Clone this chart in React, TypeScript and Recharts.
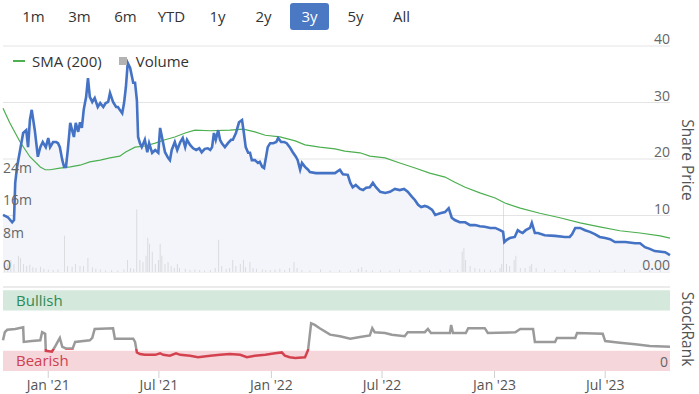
import {
  ComposedChart,
  LineChart,
  Area,
  Line,
  Bar,
  XAxis,
  YAxis,
  CartesianGrid,
  ReferenceArea,
  ReferenceLine,
} from 'recharts';

const FONT = "'Open Sans', 'Noto Sans', sans-serif";
const BLUE = '#4472c4';
const SMA_GREEN = '#4caf50';
const GRID = '#e4e4e4';
const LABEL = '#666';

// x values are days counted from 19 Oct 2020
const START = Date.UTC(2020, 9, 19);
const dayOf = (y: number, m: number, d: number) =>
  Math.round((Date.UTC(y, m - 1, d) - START) / 86400000);
const END_DAY = dayOf(2023, 10, 15);

const RANGE_BUTTONS = ['1m', '3m', '6m', 'YTD', '1y', '2y', '3y', '5y', 'All'];
const ACTIVE_RANGE = '3y';

const DATE_TICKS = [
  { label: "Jan '21", day: dayOf(2021, 1, 1) },
  { label: "Jul '21", day: dayOf(2021, 7, 1) },
  { label: "Jan '22", day: dayOf(2022, 1, 1) },
  { label: "Jul '22", day: dayOf(2022, 7, 1) },
  { label: "Jan '23", day: dayOf(2023, 1, 1) },
  { label: "Jul '23", day: dayOf(2023, 7, 1) },
];

const PRICE_TICKS = [0, 10, 20, 30, 40];
const VOLUME_TICKS = [0, 8, 16, 24]; // millions
const RANK_TICKS = [0];

// [day, share price]
const PRICE: [number, number][] = [
  [0, 10.1], [8, 9.7], [15, 8.8], [18, 9.2], [20, 15.8], [23, 18.6], [28, 21.6], [33, 24.6],
  [38, 25.1], [41, 22.1], [44, 26.9], [47, 28.7], [52, 25.1], [57, 20.4], [61, 22.1], [65, 23.0],
  [70, 22.1], [74, 23.7], [77, 22.1], [82, 23.0], [87, 23.0], [90, 22.8], [93, 22.1], [97, 19.8],
  [100, 18.6], [103, 18.6], [106, 21.6], [110, 26.4], [113, 25.1], [116, 23.9], [119, 26.4], [123, 24.8],
  [126, 26.5], [129, 25.5], [132, 28.7], [136, 31.0], [139, 34.3], [142, 31.0], [146, 30.1], [150, 30.8],
  [155, 29.2], [159, 29.9], [164, 29.2], [168, 29.9], [172, 30.1], [175, 31.7], [180, 30.1], [185, 29.2],
  [188, 29.2], [191, 28.7], [195, 28.1], [198, 29.9], [201, 32.7], [204, 37.0], [208, 36.1], [213, 33.5],
  [216, 33.5], [219, 30.4], [221, 23.9], [224, 22.8], [227, 22.1], [232, 23.4], [236, 21.2], [239, 22.8],
  [244, 21.1], [249, 21.6], [254, 21.1], [257, 25.5], [260, 23.9], [265, 21.2], [270, 20.2], [273, 19.8],
  [276, 21.6], [281, 23.0], [285, 21.6], [290, 23.0], [294, 23.7], [298, 22.1], [301, 23.4], [306, 22.5],
  [311, 21.9], [316, 21.6], [321, 21.9], [325, 21.2], [330, 21.8], [335, 21.9], [339, 21.6], [342, 22.1],
  [345, 24.6], [348, 23.4], [352, 25.1], [355, 23.4], [358, 22.8], [363, 22.1], [368, 22.8], [373, 23.4],
  [376, 23.4], [381, 24.6], [386, 26.5], [391, 26.9], [394, 24.6], [397, 22.1], [401, 21.1], [404, 21.1],
  [407, 19.8], [412, 19.8], [417, 19.3], [420, 19.5], [424, 18.6], [427, 18.4], [430, 20.2], [433, 22.1],
  [437, 22.8], [442, 22.8], [447, 23.0], [450, 23.7], [455, 23.0], [460, 23.0], [464, 22.8], [469, 22.1],
  [474, 21.2], [479, 20.4], [482, 19.8], [486, 18.1], [489, 19.3], [494, 18.6], [499, 18.1], [502, 17.7],
  [512, 17.5], [530, 17.5], [543, 17.5], [551, 18.1], [556, 17.3], [564, 17.2], [568, 15.8], [572, 15.0],
  [577, 15.4], [584, 14.7], [589, 14.5], [594, 14.9], [600, 15.0], [605, 15.8], [610, 15.0], [617, 14.2],
  [625, 14.0], [633, 14.2], [641, 14.7], [649, 14.5], [656, 14.7], [662, 14.2], [669, 13.3], [674, 12.7],
  [679, 11.9], [684, 11.5], [690, 11.7], [695, 11.5], [702, 11.0], [707, 10.1], [715, 10.4], [723, 10.6],
  [729, 11.3], [734, 9.6], [739, 9.2], [747, 8.8], [756, 8.8], [764, 8.3], [772, 8.3], [780, 8.1],
  [788, 8.0], [797, 7.8], [805, 7.8], [813, 7.4], [818, 7.1], [820, 5.3], [824, 5.7], [829, 6.0],
  [837, 6.2], [842, 7.4], [846, 7.1], [850, 6.9], [855, 7.4], [862, 7.8], [865, 8.7], [870, 6.9],
  [875, 6.9], [886, 6.5], [903, 6.4], [919, 6.2], [927, 6.2], [931, 6.7], [936, 7.8], [944, 7.8],
  [952, 7.4], [960, 7.1], [968, 6.7], [976, 6.2], [985, 6.0], [993, 5.8], [1001, 5.3], [1018, 5.3],
  [1034, 5.1], [1042, 5.1], [1050, 4.4], [1058, 4.1], [1066, 3.7], [1083, 3.5], [1091, 3.0],
];

// [day, 200-day simple moving average]
const SMA_200: [number, number][] = [
  [0, 29.0], [11, 26.4], [28, 23.0], [44, 20.4], [61, 18.6], [69, 18.1], [77, 18.1], [93, 18.4],
  [110, 18.6], [126, 18.9], [142, 19.5], [159, 19.8], [175, 20.2], [191, 20.5], [200, 21.2], [216, 22.1],
  [232, 22.3], [249, 22.8], [265, 23.4], [281, 23.9], [298, 24.6], [314, 25.1], [339, 25.0], [371, 25.1],
  [393, 25.3], [412, 24.8], [429, 24.2], [453, 23.9], [478, 23.2], [494, 22.5], [518, 22.1], [543, 21.8],
  [559, 21.4], [584, 21.1], [600, 20.5], [625, 20.2], [649, 19.3], [674, 18.4], [698, 17.5], [723, 16.8],
  [739, 15.9], [756, 15.0], [780, 14.0], [805, 13.1], [821, 12.2], [846, 11.3], [878, 10.4], [911, 9.6],
  [944, 8.7], [976, 8.0], [1009, 7.3], [1042, 6.9], [1075, 6.4], [1091, 6.0],
];

// [day, volume in millions]
const VOLUME: [number, number][] = [
  [3, 1.5], [8, 2], [13, 3], [18, 2], [25, 4], [29, 3.5], [34, 2], [39, 1.5], [44, 1.8], [49, 1.2],
  [54, 1], [61, 1.3], [67, 0.8], [74, 0.6], [82, 0.5], [90, 0.6], [101, 9], [106, 1.5], [113, 1.3],
  [119, 2], [126, 1.5], [132, 1.5], [139, 3.5], [146, 1.2], [152, 0.8], [159, 0.6], [168, 0.4],
  [178, 0.5], [188, 0.4], [198, 0.6], [204, 3], [209, 1], [214, 0.8], [219, 15.5], [224, 3],
  [229, 2.5], [234, 4], [237, 8.5], [240, 7], [244, 5], [249, 2], [254, 3], [257, 7], [260, 4],
  [265, 2], [270, 2.5], [275, 1.5], [280, 1], [285, 2], [289, 1], [298, 0.8], [306, 0.5], [314, 0.6],
  [322, 0.5], [330, 0.4], [339, 0.5], [347, 1], [353, 8], [358, 1.5], [365, 0.8], [371, 1], [376, 3],
  [381, 1.5], [388, 2], [393, 3], [397, 1.2], [404, 2.5], [409, 1], [415, 0.8], [424, 0.6], [430, 0.5],
  [437, 0.5], [445, 0.6], [453, 0.8], [461, 0.5], [469, 1], [476, 2.5], [481, 1], [489, 0.5],
  [502, 0.4], [519, 0.6], [535, 0.4], [551, 0.5], [568, 0.4], [581, 0.8], [587, 1.2], [594, 0.5],
  [604, 0.4], [617, 0.5], [633, 0.4], [649, 0.6], [666, 0.4], [682, 0.5], [698, 0.4], [715, 0.5],
  [731, 0.6], [744, 0.5], [751, 5], [754, 6], [757, 3], [764, 1.5], [772, 1], [780, 0.8], [788, 0.6],
  [797, 0.5], [805, 0.4], [813, 1], [816, 2], [819, 17], [824, 2], [829, 1.5], [836, 3], [839, 4],
  [846, 1], [854, 1], [862, 1.5], [865, 2], [872, 1], [886, 0.8], [903, 0.5], [919, 0.6], [936, 0.5],
  [960, 0.4], [976, 0.5], [1001, 0.4], [1017, 0.6], [1042, 0.5], [1058, 0.4], [1075, 0.6],
];

// [day, StockRank 0-100]
const STOCKRANK: [number, number][] = [
  [0, 38], [3, 48], [7, 51], [20, 52], [33, 54], [34, 36], [47, 37], [61, 38], [64, 48], [69, 46],
  [70, 25], [80, 24], [85, 30], [90, 37], [93, 41], [97, 30], [103, 28], [114, 28], [118, 36],
  [142, 38], [146, 41], [150, 52], [180, 53], [183, 40], [213, 40], [216, 36], [219, 23], [224, 21],
  [232, 20], [249, 20], [257, 22], [262, 20], [273, 19], [283, 22], [290, 20], [306, 19], [319, 17],
  [339, 19], [355, 20], [371, 21], [388, 20], [399, 17], [412, 19], [429, 20], [445, 22], [456, 23],
  [461, 19], [469, 17], [478, 16], [494, 17], [499, 26], [504, 59], [510, 57], [518, 53], [535, 45],
  [551, 43], [568, 40], [584, 42], [600, 44], [604, 53], [608, 48], [625, 47], [636, 45], [657, 43],
  [662, 48], [690, 48], [695, 52], [700, 47], [731, 47], [733, 57], [736, 47], [757, 47], [761, 53],
  [788, 53], [793, 47], [838, 48], [846, 52], [867, 52], [870, 36], [903, 36], [906, 41], [936, 41],
  [939, 47], [981, 46], [985, 37], [1009, 35], [1034, 33], [1058, 31], [1091, 30],
];
const BEARISH_LIMIT = 27;

function buildMainTable() {
  const rows = new Map<number, any>();
  const put = (day: number, key: string, v: number) => {
    const row = rows.get(day) ?? { day };
    row[key] = v;
    rows.set(day, row);
  };
  PRICE.forEach(([d, v]) => put(d, 'price', v));
  SMA_200.forEach(([d, v]) => put(d, 'sma', v));
  VOLUME.forEach(([d, v]) => put(d, 'vol', v));
  return [...rows.values()].sort((a, b) => a.day - b.day);
}

const mainData = buildMainTable();
const rankData = STOCKRANK.map(([day, rank]) => ({ day, rank }));
const rankMax = Math.max(...STOCKRANK.map((r) => r[1]));
const rankMin = Math.min(...STOCKRANK.map((r) => r[1]));
const rankSplit = (rankMax - BEARISH_LIMIT) / (rankMax - rankMin);

const PriceTick = (props: any) => {
  const { x, y, payload } = props;
  return (
    <text x={x} y={y - 2} textAnchor="end" fill={LABEL} fontSize={14} fontFamily={FONT}>
      {payload.value === 0 ? '0.00' : payload.value}
    </text>
  );
};

const VolumeTick = (props: any) => {
  const { x, y, payload } = props;
  return (
    <text x={x} y={y - 2} textAnchor="start" fill={LABEL} fontSize={14} fontFamily={FONT}>
      {payload.value === 0 ? '0' : `${payload.value}m`}
    </text>
  );
};

const RankTick = (props: any) => {
  const { x, y, payload } = props;
  return (
    <text x={x - 2} y={y - 4} textAnchor="end" fill={LABEL} fontSize={14} fontFamily={FONT}>
      {payload.value}
    </text>
  );
};

function RangeButtons() {
  return (
    <div style={{ position: 'absolute', left: 14, top: 3, display: 'flex', gap: 7, zIndex: 2 }}>
      {RANGE_BUTTONS.map((b) => {
        const active = b === ACTIVE_RANGE;
        return (
          <div
            key={b}
            style={{
              width: 39,
              height: 27,
              lineHeight: '27px',
              textAlign: 'center',
              fontSize: 15,
              borderRadius: 3,
              color: active ? '#fff' : '#333',
              background: active ? '#4a78c2' : 'transparent',
            }}
          >
            {b}
          </div>
        );
      })}
    </div>
  );
}

function PriceLegend() {
  return (
    <div style={{ position: 'absolute', left: 13, top: 51, display: 'flex', alignItems: 'center', fontSize: 15, color: '#333', zIndex: 2 }}>
      <span style={{ display: 'inline-block', width: 12, height: 1.5, background: SMA_GREEN, marginRight: 7 }} />
      <span>SMA (200)</span>
      <span style={{ display: 'inline-block', width: 8, height: 8, background: '#b3b3b3', margin: '0 9px 0 17px' }} />
      <span>Volume</span>
    </div>
  );
}

function PriceChart() {
  return (
    <ComposedChart width={699} height={280} data={mainData} margin={{ top: 46, right: 0, bottom: 8, left: 0 }}>
      <CartesianGrid yAxisId="price" vertical={false} stroke={GRID} />
      <XAxis dataKey="day" type="number" domain={[0, END_DAY]} hide />
      <YAxis
        yAxisId="price"
        orientation="right"
        width={29}
        domain={[0, 40]}
        ticks={PRICE_TICKS}
        interval={0}
        axisLine={false}
        tickLine={false}
        tickSize={0}
        tickMargin={0}
        tick={PriceTick}
      />
      <YAxis
        yAxisId="vol"
        orientation="left"
        width={3}
        domain={[0, 56]}
        ticks={VOLUME_TICKS}
        interval={0}
        axisLine={false}
        tickLine={false}
        tickSize={0}
        tickMargin={0}
        tick={VolumeTick}
      />
      <Area
        yAxisId="price"
        dataKey="price"
        type="linear"
        stroke="none"
        fill="#f3f5fb"
        fillOpacity={1}
        connectNulls
        isAnimationActive={false}
      />
      <Bar yAxisId="vol" dataKey="vol" barSize={1} fill="#c6c6c6" isAnimationActive={false} />
      <Line
        yAxisId="price"
        dataKey="sma"
        type="linear"
        stroke={SMA_GREEN}
        strokeWidth={1.2}
        dot={false}
        connectNulls
        isAnimationActive={false}
      />
      <Line
        yAxisId="price"
        dataKey="price"
        type="linear"
        stroke={BLUE}
        strokeWidth={2.6}
        dot={false}
        connectNulls
        isAnimationActive={false}
      />
    </ComposedChart>
  );
}

function RankChart() {
  return (
    <LineChart width={699} height={114} data={rankData} margin={{ top: 7, right: 0, bottom: 0, left: 3 }}>
      <defs>
        <linearGradient id="rankStroke" x1="0" y1="0" x2="0" y2="1">
          <stop offset={0} stopColor="#9a9a9a" />
          <stop offset={rankSplit} stopColor="#9a9a9a" />
          <stop offset={rankSplit} stopColor="#d4424f" />
          <stop offset={1} stopColor="#d4424f" />
        </linearGradient>
      </defs>
      <XAxis
        dataKey="day"
        type="number"
        domain={[0, END_DAY]}
        ticks={DATE_TICKS.map((t) => t.day)}
        tickFormatter={(v) => DATE_TICKS.find((t) => t.day === v)?.label ?? ''}
        interval={0}
        height={23}
        axisLine={false}
        tickLine={{ stroke: '#d0d0d0' }}
        tickSize={7}
        tickMargin={2}
        tick={{ fill: '#555', fontSize: 14, fontFamily: FONT }}
      />
      <YAxis
        orientation="right"
        width={29}
        domain={[0, 104]}
        ticks={RANK_TICKS}
        interval={0}
        axisLine={false}
        tickLine={false}
        tickSize={0}
        tickMargin={0}
        tick={RankTick}
      />
      <ReferenceLine y={104} stroke={GRID} strokeWidth={1.5} />
      <ReferenceArea
        y1={75}
        y2={100}
        fill="#d4e8db"
        fillOpacity={1}
        stroke="none"
        label={{ value: 'Bullish', position: 'insideLeft', offset: 13, fill: '#2e8b57', fontSize: 15, fontFamily: FONT }}
      />
      <ReferenceArea
        y1={0}
        y2={25}
        fill="#f5d6da"
        fillOpacity={1}
        stroke="none"
        label={{ value: 'Bearish', position: 'insideLeft', offset: 13, fill: '#d0404f', fontSize: 15, fontFamily: FONT }}
      />
      <Line
        dataKey="rank"
        type="linear"
        stroke="url(#rankStroke)"
        strokeWidth={2.5}
        dot={false}
        isAnimationActive={false}
      />
    </LineChart>
  );
}

const sideLabel = {
  position: 'absolute' as const,
  writingMode: 'vertical-rl' as const,
  fontSize: 15.5,
  color: '#555',
  transform: 'translateY(-50%)',
};

export default function App() {
  return (
    <div style={{ position: 'absolute', left: 0, top: 0, width: 699, height: 394, background: '#fff', fontFamily: FONT, overflow: 'hidden' }}>
      <div style={{ position: 'absolute', left: 0, top: 0 }}>
        <PriceChart />
      </div>
      <div style={{ position: 'absolute', left: 0, top: 280 }}>
        <RankChart />
      </div>
      <RangeButtons />
      <PriceLegend />
      <div style={{ ...sideLabel, left: 677, top: 160 }}>Share Price</div>
      <div style={{ ...sideLabel, left: 677, top: 329 }}>StockRank</div>
    </div>
  );
}
